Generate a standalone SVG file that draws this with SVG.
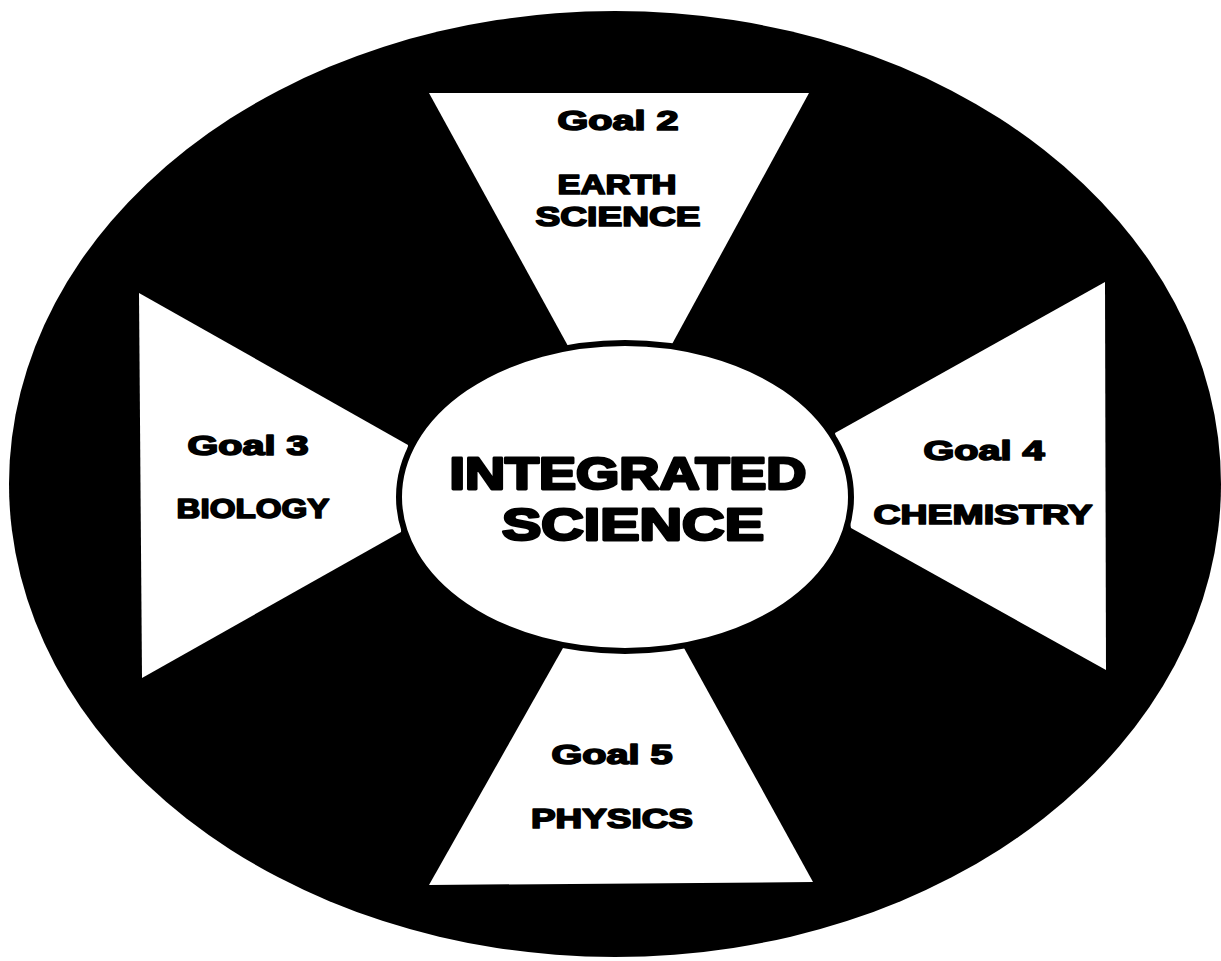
<svg xmlns="http://www.w3.org/2000/svg" width="1221" height="961" viewBox="0 0 1221 961">
  <style>
    .panel { fill: #ffffff; }
    .lbl { font-family: "Liberation Sans", Arial, sans-serif; font-weight: bold; font-size: 28px; fill: #000; stroke: #000; stroke-width: 1.7; stroke-linejoin: round; text-anchor: middle; }
    .core { font-family: "Liberation Sans", Arial, sans-serif; font-weight: bold; font-size: 45px; fill: #000; stroke: #000; stroke-width: 2.8; stroke-linejoin: round; text-anchor: middle; }
  </style>
  <rect width="1221" height="961" fill="#ffffff"/>

  <!-- outer disc -->
  <g id="ring">
    <ellipse cx="615" cy="484" rx="606" ry="473" fill="#000000"/>
  </g>

  <!-- Goal 2: Earth Science (top) -->
  <g id="goal2">
    <polygon class="panel" points="429,93 809,93 671,346 568,346"/>
    <text class="lbl" x="618" y="130" textLength="121" lengthAdjust="spacingAndGlyphs">Goal 2</text>
    <text class="lbl" x="617" y="194" textLength="119" lengthAdjust="spacingAndGlyphs">EARTH</text>
    <text class="lbl" x="618" y="226" textLength="165" lengthAdjust="spacingAndGlyphs">SCIENCE</text>
  </g>

  <!-- Goal 3: Biology (left) -->
  <g id="goal3">
    <polygon class="panel" points="139,293 408,445 401,532 142,678"/>
    <text class="lbl" x="248" y="455" textLength="121" lengthAdjust="spacingAndGlyphs">Goal 3</text>
    <text class="lbl" x="253" y="518" textLength="153" lengthAdjust="spacingAndGlyphs">BIOLOGY</text>
  </g>

  <!-- Goal 4: Chemistry (right) -->
  <g id="goal4">
    <polygon class="panel" points="1105,282 1106,670 851,528 835,433"/>
    <text class="lbl" x="984" y="460" textLength="121" lengthAdjust="spacingAndGlyphs">Goal 4</text>
    <text class="lbl" x="983" y="524" textLength="219" lengthAdjust="spacingAndGlyphs">CHEMISTRY</text>
  </g>

  <!-- Goal 5: Physics (bottom) -->
  <g id="goal5">
    <polygon class="panel" points="563,648 684,648 813,882 429,885"/>
    <text class="lbl" x="612" y="764" textLength="121" lengthAdjust="spacingAndGlyphs">Goal 5</text>
    <text class="lbl" x="612" y="828" textLength="162" lengthAdjust="spacingAndGlyphs">PHYSICS</text>
  </g>

  <!-- central hub -->
  <g id="integrated-science">
    <ellipse cx="625" cy="497" rx="226" ry="154" fill="#ffffff" stroke="#000000" stroke-width="6"/>
    <text class="core" x="628" y="489" textLength="357" lengthAdjust="spacingAndGlyphs">INTEGRATED</text>
    <text class="core" x="633" y="540" textLength="262" lengthAdjust="spacingAndGlyphs">SCIENCE</text>
  </g>
</svg>
